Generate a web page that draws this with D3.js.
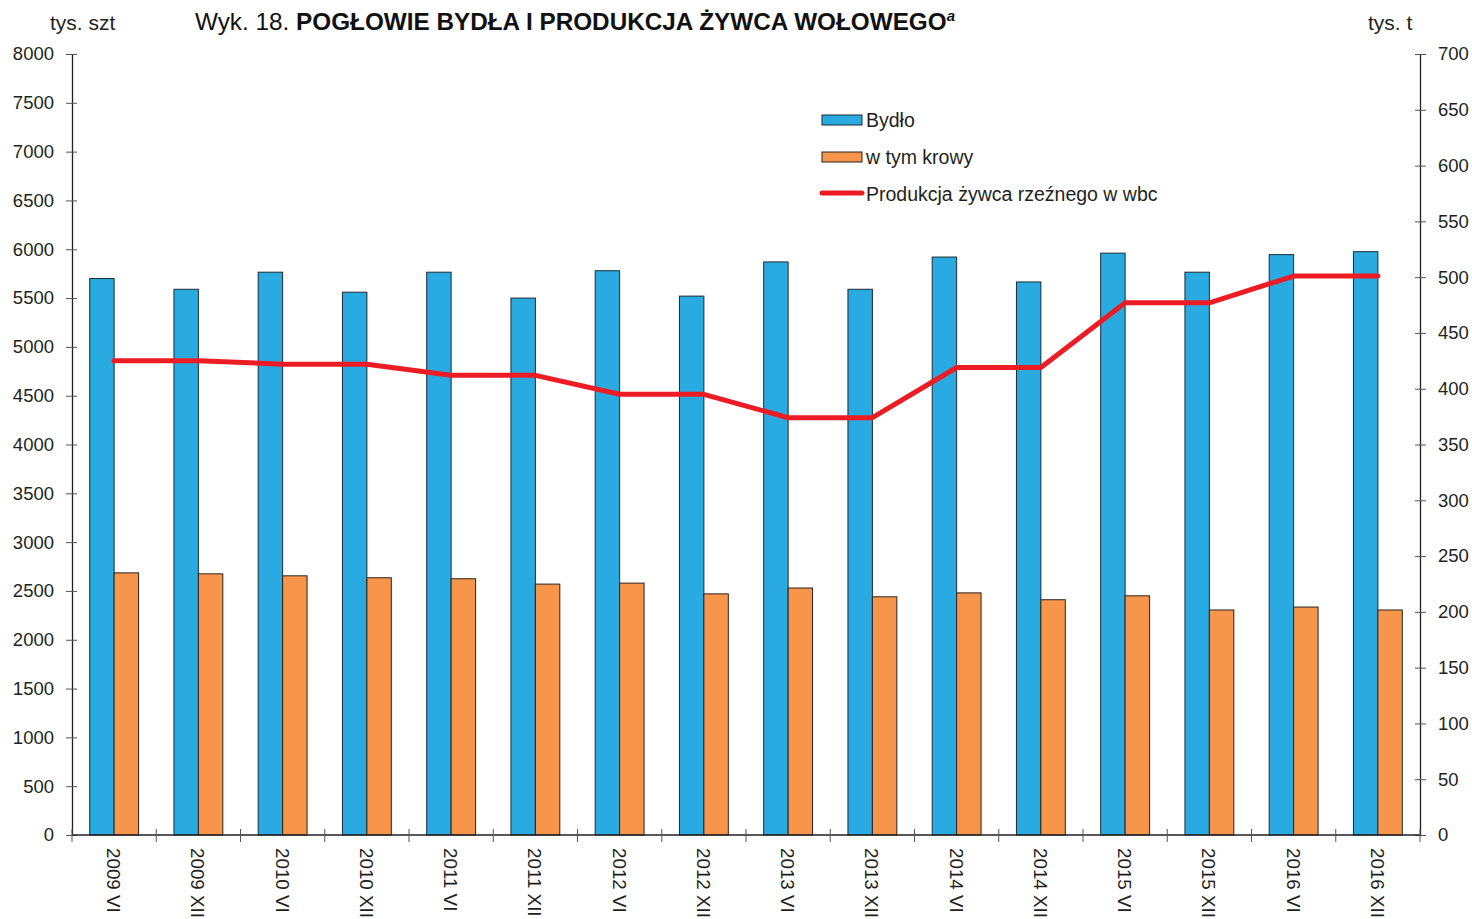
<!DOCTYPE html>
<html>
<head>
<meta charset="utf-8">
<script src="https://cdn.jsdelivr.net/npm/d3@7"></script>
<style>
  body { margin: 0; background: #fff; }
  text { font-family: "Liberation Sans", Arial, sans-serif; fill: #231f20; }
</style>
</head>
<body>
<div id="chart"></div>
<script>
// data
const categories = ["2009 VI", "2009 XII", "2010 VI", "2010 XII", "2011 VI", "2011 XII",
  "2012 VI", "2012 XII", "2013 VI", "2013 XII", "2014 VI", "2014 XII",
  "2015 VI", "2015 XII", "2016 VI", "2016 XII"];
const bydlo = [5700, 5590, 5765, 5560, 5765, 5500, 5780, 5520, 5870, 5590, 5920, 5665, 5960, 5765, 5945, 5975];
const krowy = [2685, 2675, 2655, 2635, 2625, 2570, 2580, 2470, 2530, 2440, 2480, 2410, 2450, 2305, 2335, 2305];
const produkcja = [425, 425, 422, 422, 412, 412, 395, 395, 374, 374, 419, 419, 477, 477, 501, 501];
const leftTicks = d3.range(0, 8001, 500);
const rightTicks = d3.range(0, 701, 50);

const width = 1472, height = 919;
const margin = {top: 54, right: 52, bottom: 84, left: 72};
const plotW = width - margin.left - margin.right,
      plotH = height - margin.top - margin.bottom;

let svg = d3.select("#chart").append("svg")
  .attr("width", width)
  .attr("height", height);

let g = svg.append("g").attr("transform", "translate(" + margin.left + "," + margin.top + ")");

var x = d3.scaleBand().domain(categories).range([0, plotW]).paddingInner(0.42).paddingOuter(0.21);
var sub = d3.scaleBand().domain(["b", "k"]).range([0, x.bandwidth()]);
var yL = d3.scaleLinear().domain([0, 8000]).range([plotH, 0]);
var yR = d3.scaleLinear().domain([0, 700]).range([plotH, 0]);

// bars
g.selectAll("rect.b").data(bydlo).enter().append("rect")
  .attr("x", (d, i) => x(categories[i]) + sub("b"))
  .attr("y", d => yL(d))
  .attr("width", sub.bandwidth())
  .attr("height", d => plotH - yL(d))
  .style("fill", "#29abe2").style("stroke", "#1d2a33").style("stroke-width", 1);

g.selectAll("rect.k").data(krowy).enter().append("rect")
  .attr("x", (d, i) => x(categories[i]) + sub("k"))
  .attr("y", d => yL(d))
  .attr("width", sub.bandwidth())
  .attr("height", d => plotH - yL(d))
  .style("fill", "#f7964a").style("stroke", "#2b2220").style("stroke-width", 1);

// axes
const tickCross = (sel) => {
  sel.select(".domain").attr("stroke", "#231f20").attr("stroke-width", 1.3);
  sel.selectAll(".tick line").attr("stroke", "#555");
  sel.selectAll("text").style("font-size", "18.5px");
};

let ax = g.append("g").call(d3.axisLeft(yL).tickValues(leftTicks).tickFormat(d3.format("d"))
  .tickSize(6).tickSizeOuter(0).tickPadding(12));
ax.selectAll(".tick line").attr("x1", 5).attr("x2", -6);
tickCross(ax);

let ar = g.append("g").attr("transform", "translate(" + plotW + ",0)")
  .call(d3.axisRight(yR).tickValues(rightTicks).tickFormat(d3.format("d"))
  .tickSize(6).tickSizeOuter(0).tickPadding(12));
ar.selectAll(".tick line").attr("x1", -5).attr("x2", 6);
tickCross(ar);

// bottom axis with ticks between groups
let bx = g.append("g").attr("transform", "translate(0," + plotH + ")");
bx.append("line").attr("x1", 0).attr("x2", plotW).attr("stroke", "#231f20").attr("stroke-width", 1.3);
const step = plotW / categories.length;
bx.selectAll("line.t").data(d3.range(categories.length + 1)).enter().append("line")
  .attr("x1", i => i * step).attr("x2", i => i * step)
  .attr("y1", -6).attr("y2", 7).attr("stroke", "#555");
bx.selectAll("text").data(categories).enter().append("text")
  .attr("transform", d => "translate(" + (x(d) + x.bandwidth() / 2 - 7) + ",13) rotate(90)")
  .style("font-size", "18.8px")
  .text(d => d);

// line
var line = d3.line()
  .x((d, i) => x(categories[i]) + x.bandwidth() / 2)
  .y(d => yR(d));
g.append("path").datum(produkcja)
  .attr("d", line)
  .attr("fill", "none")
  .attr("stroke", "#ed1c24")
  .attr("stroke-width", 5)
  .attr("stroke-linecap", "round")
  .attr("stroke-linejoin", "round");

// titles
svg.append("text").attr("x", 50).attr("y", 30).style("font-size", "21px").text("tys. szt");
svg.append("text").attr("x", 1368).attr("y", 30).style("font-size", "21px").text("tys. t");
let title = svg.append("text").attr("x", 195).attr("y", 30).style("font-size", "24.3px").style("fill", "#111");
title.append("tspan").text("Wyk. 18. ");
title.append("tspan").style("font-weight", "bold").text("POGŁOWIE BYDŁA I PRODUKCJA ŻYWCA WOŁOWEGO");
title.append("tspan").style("font-weight", "bold").style("font-style", "italic")
  .style("font-size", "15px").attr("dy", -9).text("a");

// legend
const legendItems = ["Bydło", "w tym krowy", "Produkcja żywca rzeźnego w wbc"];
let lg = svg.append("g").attr("transform", "translate(822,120)");
lg.selectAll("text").data(legendItems).enter().append("text")
  .attr("x", 44).attr("y", (d, i) => i * 37 + 7)
  .style("font-size", "19.5px").text(d => d);
lg.append("rect").attr("x", 0).attr("y", -5).attr("width", 40).attr("height", 10)
  .style("fill", "#29abe2").style("stroke", "#1d2a33");
lg.append("rect").attr("x", 0).attr("y", 32).attr("width", 40).attr("height", 10)
  .style("fill", "#f7964a").style("stroke", "#2b2220");
lg.append("line").attr("x1", 0).attr("x2", 40).attr("y1", 73).attr("y2", 73)
  .attr("stroke", "#ed1c24").attr("stroke-width", 5).attr("stroke-linecap", "round");
</script>
</body>
</html>
